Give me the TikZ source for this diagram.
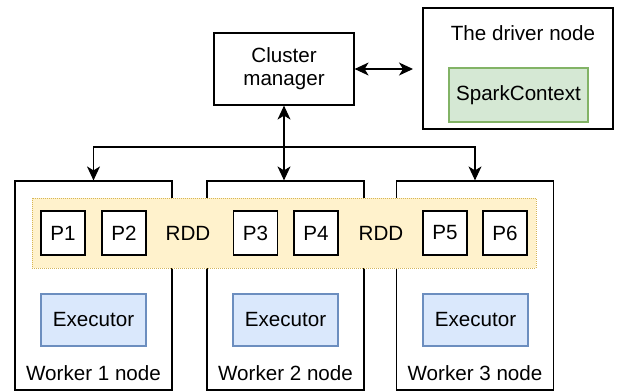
\documentclass[tikz,border=0pt]{standalone}
\usepackage{fontspec}
\setmainfont{Liberation Sans}
\usetikzlibrary{arrows.meta}
\definecolor{rddfill}{HTML}{FFF2CC}
\definecolor{rddline}{HTML}{D6B656}
\definecolor{exfill}{HTML}{DAE8FC}
\definecolor{exline}{HTML}{6C8EBF}
\definecolor{scfill}{HTML}{D5E8D4}
\definecolor{scline}{HTML}{82B366}
\tikzset{
  txt/.style={font=\fontsize{20.6}{24}\selectfont},
  box/.style={draw=black, line width=1.2pt, fill=white, inner sep=0pt, align=center, txt},
  worker/.style={box, minimum width=157pt, minimum height=209pt},
  part/.style={box, minimum width=44pt, minimum height=44pt},
  executor/.style={box, draw=exline, fill=exfill, minimum width=105pt, minimum height=52pt},
  lbl/.style={inner sep=0pt, txt},
  tip/.tip={Stealth[length=14pt,width=13pt,inset=4pt]},
  link/.style={line width=1.2pt, -tip},
  duplex/.style={line width=1.2pt, tip-tip}
}
\begin{document}
\begin{tikzpicture}[x=1pt,y=-1pt]
\useasboundingbox (0,0) rectangle (619,391);

% worker machines
\node[worker] (w1) at (93.5,285.5) {};
\node[worker] (w2) at (285.5,285.5) {};
\node[worker] (w3) at (475,285.5) {};

% RDD spanning the workers
\node[draw=rddline, fill=rddfill, densely dotted, line width=1pt, inner sep=0pt,
      minimum width=504pt, minimum height=70pt] (rdd) at (284,233) {};
\node[part] (p1) at (63,233) {P1};
\node[part] (p2) at (124,233) {P2};
\node[lbl] (rdda) at (188,233) {RDD};
\node[part] (p3) at (255.5,233) {P3};
\node[part] (p4) at (316,233) {P4};
\node[lbl] (rddb) at (381,233) {RDD};
\node[part] (p5) at (445,233) {P5};
\node[part] (p6) at (505,233) {P6};

% executors
\node[executor] (e1) at (93.5,320) {Executor};
\node[executor] (e2) at (285.5,320) {Executor};
\node[executor] (e3) at (475.5,320) {Executor};

% worker captions
\node[lbl] (l1) at (93.5,373) {Worker 1 node};
\node[lbl] (l2) at (285.5,373) {Worker 2 node};
\node[lbl] (l3) at (475,373) {Worker 3 node};

% cluster manager
\node[box, minimum width=140pt, minimum height=72pt] (cm) at (284,69) {Cluster\\[-1pt]manager};

% driver
\node[box, minimum width=190pt, minimum height=121pt] (drv) at (518,68.5) {};
\node[lbl] (drvl) at (523,33) {The driver node};
\node[box, draw=scline, fill=scfill, minimum width=139pt, minimum height=54pt] (sc) at (518.5,95) {SparkContext};

% connectors
\coordinate (dend) at (413,69);
\draw[duplex] (cm.east) -- (dend);
\draw[duplex] (cm.south) -- (cm.south |- w2.north);
\coordinate (fork) at (284,147);
\draw[link] (fork) -| (w1.north);
\draw[link] (fork) -| (w3.north);
\end{tikzpicture}
\end{document}
